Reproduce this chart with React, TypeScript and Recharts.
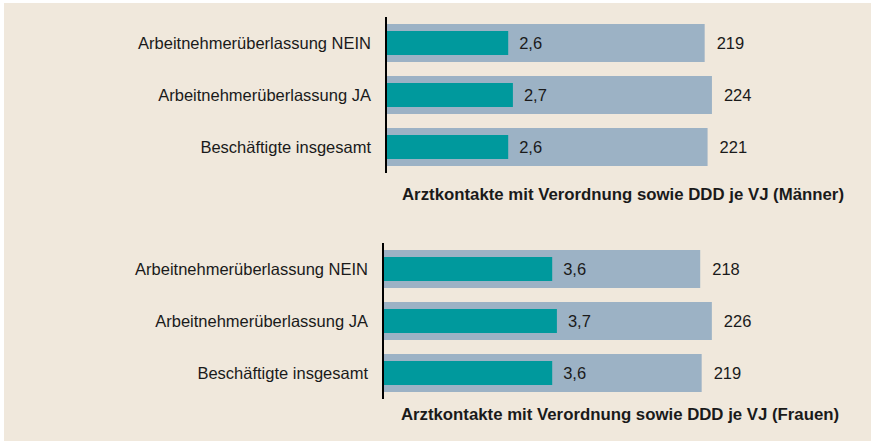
import { Bar, BarChart, LabelList, XAxis, YAxis } from 'recharts'

const KATEGORIEN = ['Arbeitnehmerüberlassung NEIN', 'Arbeitnehmerüberlassung JA', 'Beschäftigte insgesamt']

const KONTAKTE_MAENNER = [2.6, 2.7, 2.6]
const DDD_MAENNER = [219, 224, 221]

const KONTAKTE_FRAUEN = [3.6, 3.7, 3.6]
const DDD_FRAUEN = [218, 226, 219]

const TITEL_MAENNER = 'Arztkontakte mit Verordnung sowie DDD je VJ (Männer)'
const TITEL_FRAUEN = 'Arztkontakte mit Verordnung sowie DDD je VJ (Frauen)'

const FONT = '"Liberation Sans", Arial, sans-serif'
const HINTERGRUND = '#f0e8dc'
const FARBE_DDD = '#9cb2c5'
const FARBE_KONTAKTE = '#00999d'
const TEXT = '#1a1a1a'

const komma = (v: unknown) => Number(v).toFixed(1).replace('.', ',')

function Panel({
  kontakte,
  ddd,
  top,
  achseX,
}: {
  kontakte: number[]
  ddd: number[]
  top: number
  achseX: number
}) {
  const daten = KATEGORIEN.map((name, i) => ({ name, kontakte: kontakte[i], ddd: ddd[i] }))
  return (
    <div style={{ position: 'absolute', left: 0, top }}>
      <BarChart
        width={872}
        height={220}
        data={daten}
        layout="vertical"
        margin={{ top: 17, right: 872 - achseX - 470, bottom: 220 - 17 - 156, left: 0 }}
      >
        <XAxis xAxisId="ddd" type="number" domain={[0, 323]} hide />
        <XAxis xAxisId="kont" type="number" domain={[0, 10]} hide />
        <YAxis
          yAxisId="a"
          type="category"
          dataKey="name"
          width={achseX}
          axisLine={{ stroke: '#000', strokeWidth: 2 }}
          tickLine={false}
          tickSize={0}
          tickMargin={15}
          tick={{ fill: TEXT, fontSize: 16.5, fontFamily: FONT }}
        />
        <YAxis yAxisId="b" type="category" dataKey="name" hide />
        <Bar
          dataKey="ddd"
          xAxisId="ddd"
          yAxisId="a"
          barSize={38}
          fill={FARBE_DDD}
          isAnimationActive={false}
        >
          <LabelList
            dataKey="ddd"
            position="right"
            offset={12}
            fill={TEXT}
            fontSize={16.5}
            fontFamily={FONT}
          />
        </Bar>
        <Bar
          dataKey="kontakte"
          xAxisId="kont"
          yAxisId="b"
          barSize={24}
          fill={FARBE_KONTAKTE}
          isAnimationActive={false}
        >
          <LabelList
            dataKey="kontakte"
            position="right"
            offset={11}
            formatter={komma}
            fill={TEXT}
            fontSize={16.5}
            fontFamily={FONT}
          />
        </Bar>
      </BarChart>
    </div>
  )
}

const titelStil = {
  position: 'absolute' as const,
  width: 600,
  textAlign: 'center' as const,
  fontFamily: FONT,
  fontWeight: 'bold',
  fontSize: 16.8,
  lineHeight: '22px',
  color: TEXT,
}

export default function App() {
  return (
    <div style={{ position: 'absolute', left: 0, top: 0, width: 872, height: 442, background: '#fff' }}>
      <div
        style={{ position: 'absolute', left: 4, top: 3, width: 867, height: 438, background: HINTERGRUND }}
      />
      <Panel kontakte={KONTAKTE_MAENNER} ddd={DDD_MAENNER} top={0} achseX={386} />
      <Panel kontakte={KONTAKTE_FRAUEN} ddd={DDD_FRAUEN} top={226} achseX={383} />
      <div style={{ ...titelStil, left: 623 - 300, top: 184 }}>{TITEL_MAENNER}</div>
      <div style={{ ...titelStil, left: 620 - 300, top: 404 }}>{TITEL_FRAUEN}</div>
    </div>
  )
}
